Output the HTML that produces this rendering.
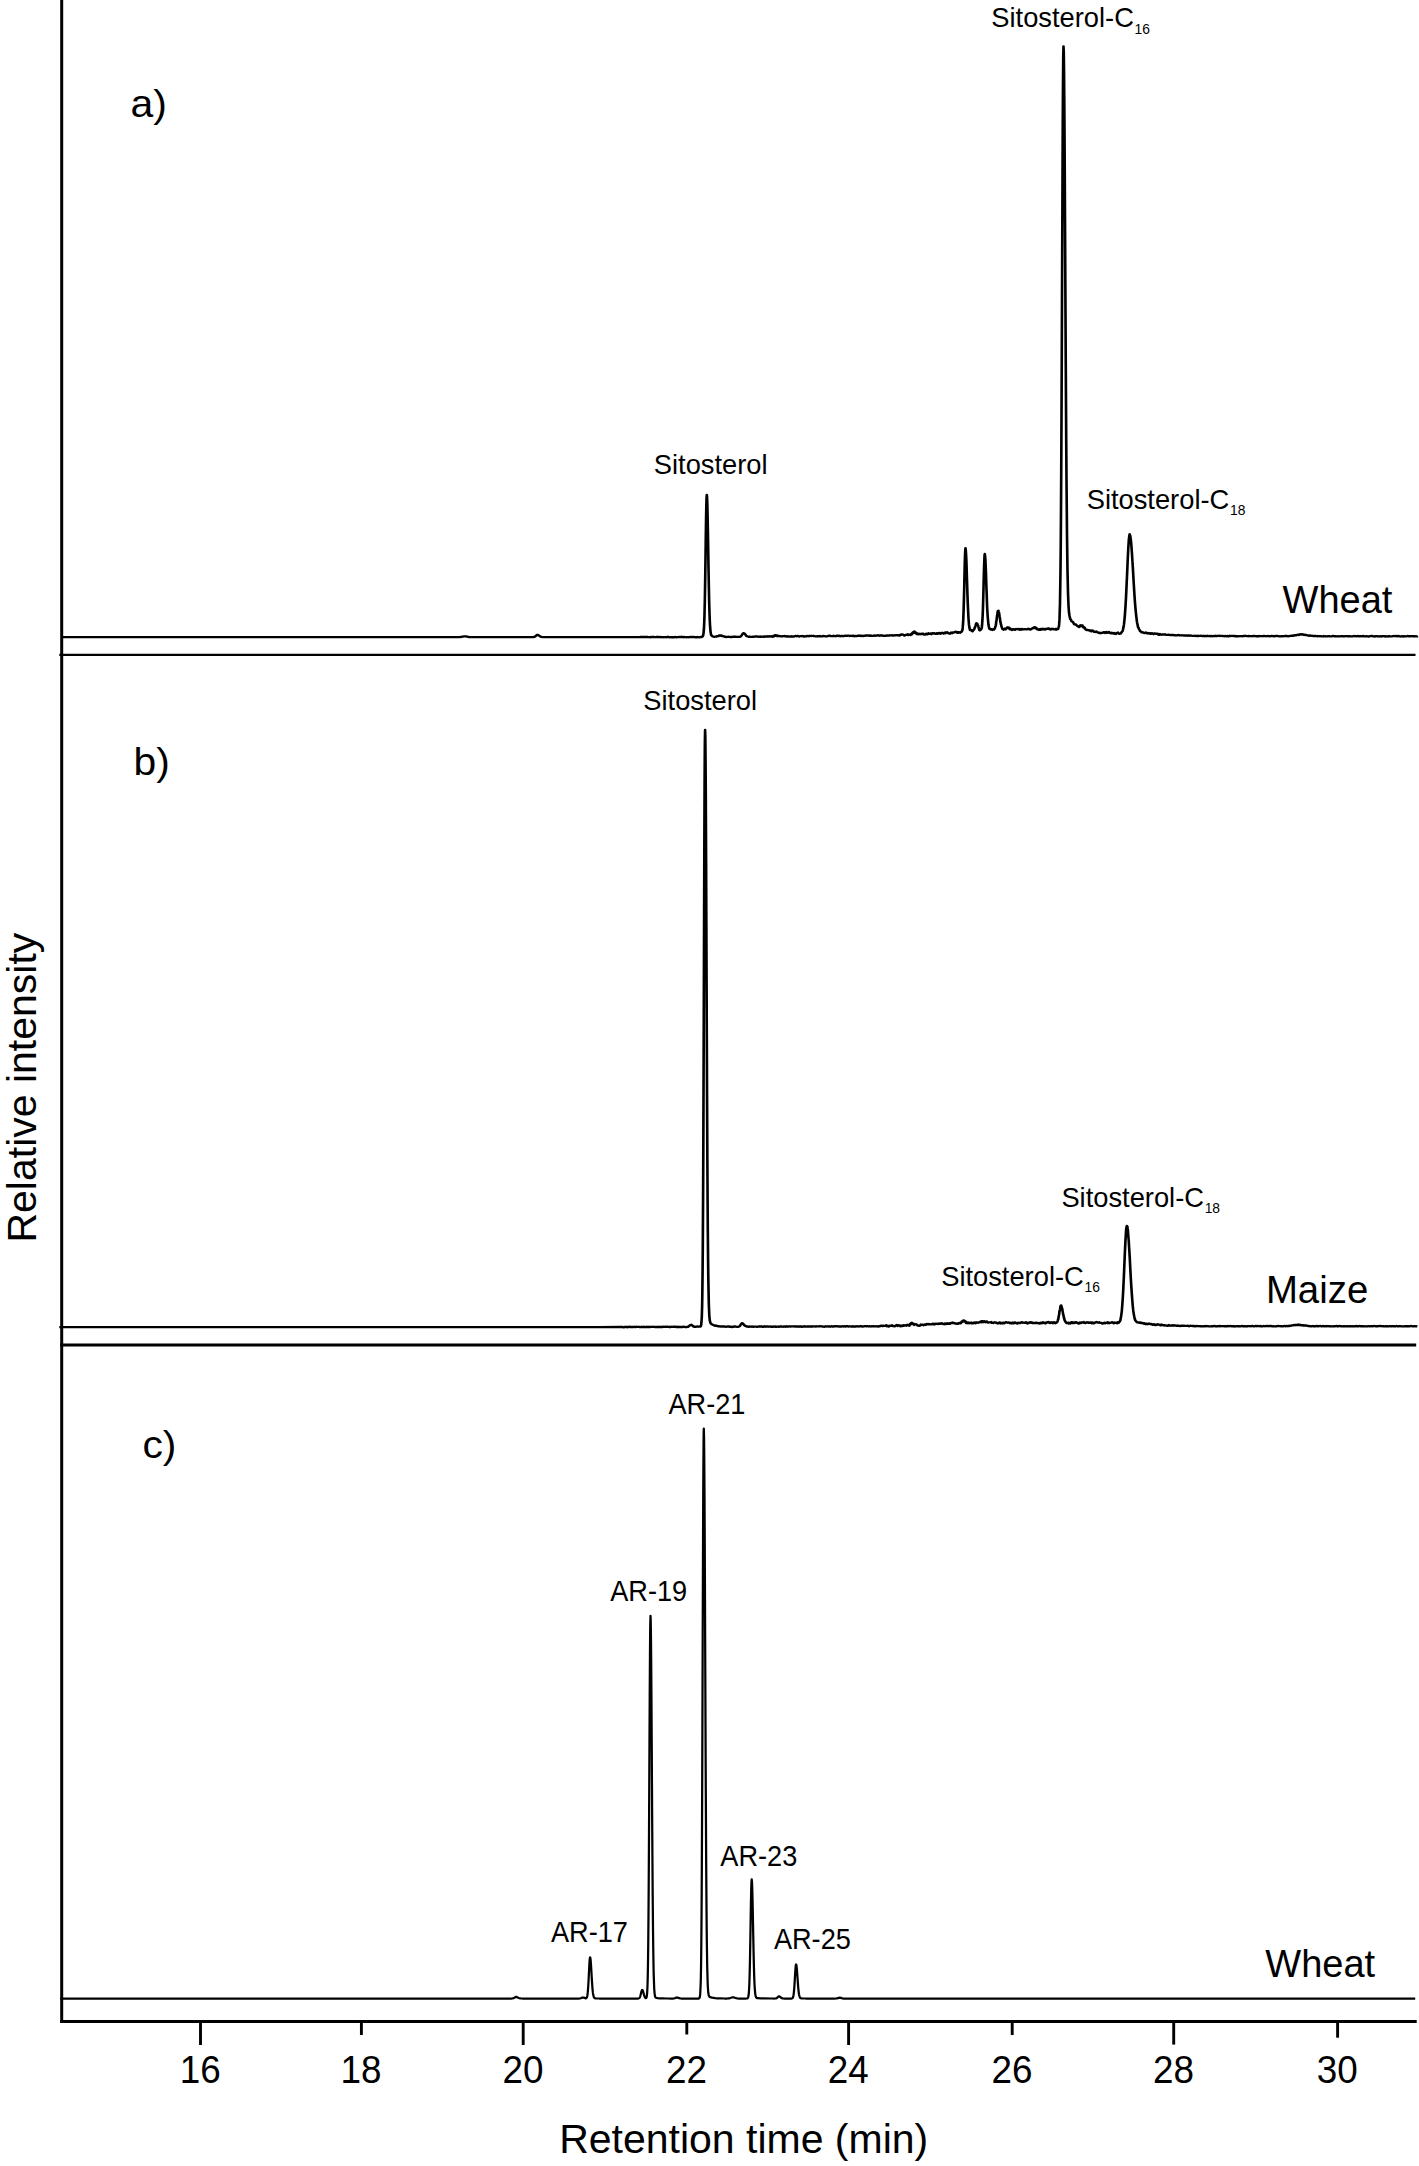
<!DOCTYPE html>
<html lang="en"><head><meta charset="utf-8"><title>GC-MS chromatograms</title>
<style>html,body{margin:0;padding:0;background:#fff;}body{width:1419px;height:2166px;overflow:hidden;}svg{display:block;}text{font-family:"Liberation Sans", Arial, Helvetica, sans-serif;fill:#000;}</style></head><body>
<svg width="1419" height="2166" viewBox="0 0 1419 2166">
<rect width="1419" height="2166" fill="#fff"/>
<g stroke="#000" fill="none" stroke-linecap="butt">
<line x1="61.7" y1="0" x2="61.7" y2="2023.1" stroke-width="3.0"/>
<line x1="60.2" y1="2021.5" x2="1416.7" y2="2021.5" stroke-width="3.2"/>
<line x1="59.3" y1="654.85" x2="1415.5" y2="654.85" stroke-width="2.45"/>
<line x1="60.2" y1="1345.0" x2="1416.2" y2="1345.0" stroke-width="2.9"/>
<line x1="200.5" y1="2021.5" x2="200.5" y2="2045" stroke-width="2.9"/>
<line x1="361.4" y1="2021.5" x2="361.4" y2="2035" stroke-width="2.9"/>
<line x1="523.2" y1="2021.5" x2="523.2" y2="2045" stroke-width="2.9"/>
<line x1="686.8" y1="2021.5" x2="686.8" y2="2034.5" stroke-width="2.9"/>
<line x1="848.6" y1="2021.5" x2="848.6" y2="2045" stroke-width="2.9"/>
<line x1="1012.2" y1="2021.5" x2="1012.2" y2="2035" stroke-width="2.9"/>
<line x1="1173.7" y1="2021.5" x2="1173.7" y2="2044.6" stroke-width="2.9"/>
<line x1="1337.6" y1="2021.5" x2="1337.6" y2="2037.7" stroke-width="2.9"/>
</g>
<g stroke="#000" fill="none" stroke-linejoin="round" stroke-linecap="butt">
<path transform="scale(1.12,1)" stroke-width="2.35" d="M55.36 637.1 L91.52 637.1 L127.68 637.1 L163.84 637.1 L200.00 637.1 L236.16 637.1 L272.32 637.1 L308.48 637.1 L344.64 637.1 L380.80 637.1 L408.48 637.1 L410.27 637.1 L411.16 637.0 L412.05 636.9 L414.29 636.4 L415.18 636.3 L416.07 636.4 L417.86 636.8 L418.75 637.0 L420.09 637.1 L456.25 637.1 L474.55 637.1 L475.89 637.1 L476.34 637.0 L476.79 637.0 L477.46 636.7 L478.12 636.2 L479.02 635.3 L479.46 635.0 L479.91 634.9 L480.36 635.0 L480.80 635.2 L482.14 636.3 L482.59 636.6 L483.04 636.8 L483.48 636.9 L484.37 637.1 L486.16 637.1 L522.32 637.1 L558.48 637.1 L570.98 637.1 L571.88 637.0 L572.32 637.1 L572.77 637.0 L573.21 637.0 L573.66 637.0 L574.11 636.9 L574.55 637.0 L575.00 636.9 L575.45 637.0 L575.89 636.9 L576.34 636.9 L576.79 637.0 L577.23 637.1 L577.68 637.0 L578.12 637.0 L578.57 637.1 L579.02 637.2 L579.91 637.1 L580.36 637.2 L580.80 637.0 L581.25 637.2 L582.14 637.0 L582.59 636.9 L583.04 637.0 L583.48 637.1 L583.93 637.0 L584.82 637.1 L585.27 637.1 L585.71 637.1 L586.16 637.0 L586.61 636.9 L587.05 636.9 L587.50 637.1 L588.39 637.0 L588.84 637.1 L589.29 637.1 L589.73 637.0 L590.18 637.2 L590.62 637.2 L591.07 637.1 L591.96 637.1 L592.41 637.2 L592.86 637.2 L593.30 637.1 L593.75 637.2 L594.20 637.1 L594.64 637.1 L595.09 637.2 L595.54 637.0 L595.98 637.1 L596.43 636.9 L597.32 637.2 L597.77 637.2 L598.21 637.2 L598.66 637.1 L599.11 637.2 L600.00 637.2 L600.45 637.1 L601.34 637.3 L601.79 637.2 L602.23 637.2 L602.68 637.0 L603.12 637.1 L603.57 637.2 L604.02 637.3 L604.46 637.3 L604.91 637.1 L605.36 637.1 L605.80 637.1 L606.25 637.0 L606.70 637.0 L608.04 636.9 L608.48 637.1 L608.93 637.0 L609.37 637.0 L609.82 637.0 L610.27 637.2 L610.71 637.0 L611.61 637.1 L612.05 637.2 L612.95 637.3 L613.39 637.1 L614.29 637.1 L614.73 637.2 L615.18 637.3 L615.62 637.1 L616.07 637.0 L616.96 637.0 L617.86 637.1 L618.30 637.0 L618.75 636.9 L619.20 637.0 L619.64 637.0 L620.09 637.1 L620.54 637.2 L620.98 637.2 L621.43 637.2 L622.32 637.2 L622.77 637.0 L623.21 637.2 L624.11 637.3 L624.55 637.3 L625.00 637.2 L625.45 637.1 L625.89 637.0 L626.34 637.1 L626.79 636.9 L627.23 636.6 L627.68 635.9 L628.12 633.6 L628.39 630.7 L628.57 627.5 L628.62 626.5 L628.84 620.6 L629.02 614.2 L629.06 612.4 L629.29 601.4 L629.46 591.0 L629.51 588.1 L629.73 572.0 L629.96 554.4 L630.18 536.6 L630.36 523.2 L630.40 520.3 L630.62 507.0 L630.80 499.5 L630.85 498.1 L631.07 494.9 L631.25 496.3 L631.29 497.1 L631.52 503.4 L631.70 511.3 L631.74 513.4 L631.96 526.0 L632.19 540.7 L632.59 567.6 L632.86 584.1 L633.04 594.1 L633.08 596.5 L633.30 606.6 L633.48 613.2 L633.53 614.7 L633.75 621.0 L633.93 625.0 L634.37 631.3 L634.82 634.3 L635.27 635.5 L635.71 635.9 L636.16 636.3 L636.61 636.5 L637.05 636.6 L637.95 636.8 L638.39 636.8 L638.84 636.6 L639.29 636.6 L639.73 636.5 L640.36 636.1 L640.62 636.1 L641.03 636.2 L641.07 636.1 L641.52 636.1 L641.96 635.6 L642.37 635.4 L642.59 635.6 L642.81 635.6 L643.04 635.6 L643.26 635.6 L643.30 635.4 L643.75 635.7 L644.15 635.7 L644.20 635.6 L644.38 635.8 L644.60 635.8 L644.82 636.1 L645.09 636.0 L645.27 636.2 L645.49 636.3 L645.54 636.1 L645.98 636.1 L646.43 636.5 L646.87 636.7 L647.32 636.6 L648.21 637.0 L648.66 637.0 L649.11 636.9 L649.55 636.9 L650.45 636.7 L650.89 636.9 L651.34 636.9 L651.79 636.9 L652.23 637.0 L652.68 636.9 L653.12 637.0 L653.57 637.0 L654.02 636.8 L654.46 636.7 L655.36 636.7 L655.80 636.8 L656.25 636.7 L656.70 636.7 L657.14 636.7 L657.59 636.8 L658.04 636.8 L658.93 636.8 L659.37 636.9 L659.82 636.8 L660.27 636.9 L660.71 636.7 L661.16 636.6 L661.38 636.4 L661.61 636.1 L661.83 635.9 L662.05 635.5 L662.28 635.1 L662.50 634.9 L662.72 634.4 L662.95 634.0 L663.62 633.2 L663.84 633.1 L664.06 633.2 L664.29 633.4 L664.51 633.4 L665.18 634.1 L665.40 634.5 L665.85 635.1 L666.29 635.8 L666.52 635.9 L666.96 636.2 L667.41 636.4 L668.30 636.7 L669.64 636.7 L670.09 636.8 L670.54 636.8 L671.43 636.9 L671.87 636.7 L672.32 636.7 L672.77 636.8 L673.21 636.8 L673.66 636.6 L674.11 636.5 L674.55 636.6 L675.00 636.5 L675.45 636.5 L675.89 636.4 L676.34 636.6 L677.23 636.8 L677.68 636.6 L678.12 636.7 L678.57 636.5 L679.46 636.9 L679.91 636.6 L680.36 636.8 L680.80 636.6 L681.25 636.6 L681.70 636.8 L682.14 636.9 L682.59 636.5 L683.04 636.5 L683.48 636.5 L684.37 636.4 L684.82 636.4 L685.27 636.6 L685.71 636.3 L686.16 636.4 L686.61 636.5 L687.05 636.2 L687.50 636.3 L687.95 636.5 L688.39 636.5 L688.84 636.3 L689.29 636.6 L689.73 636.7 L689.82 636.8 L690.04 636.4 L690.27 636.0 L690.49 636.3 L690.71 635.9 L690.94 635.9 L691.16 636.2 L691.52 635.6 L691.61 635.9 L691.96 635.7 L692.05 635.4 L692.28 635.2 L692.41 635.4 L692.72 635.2 L692.86 635.6 L693.17 635.8 L693.30 635.5 L693.39 635.8 L693.62 635.6 L693.75 635.9 L694.06 635.8 L694.20 636.0 L694.29 636.2 L694.64 635.9 L694.73 636.1 L695.18 636.0 L695.54 636.0 L696.43 636.2 L696.87 636.2 L697.32 636.4 L697.77 636.3 L698.21 636.4 L698.66 636.2 L699.11 636.2 L699.55 636.1 L700.00 636.1 L700.45 636.0 L700.89 636.3 L701.34 636.4 L701.79 636.2 L702.23 636.3 L702.68 636.6 L703.12 636.3 L703.57 636.5 L704.02 636.4 L704.46 636.4 L704.91 636.5 L705.36 636.4 L705.80 636.4 L706.25 636.5 L706.70 636.6 L707.14 636.4 L707.59 636.5 L708.48 636.5 L709.37 636.3 L709.82 636.1 L710.71 635.9 L711.16 636.2 L712.50 636.0 L712.95 636.3 L713.39 636.5 L713.84 636.5 L714.29 636.3 L714.73 636.1 L715.18 636.1 L715.62 636.2 L716.07 636.0 L716.52 636.1 L716.96 636.1 L717.41 636.4 L717.86 636.6 L718.30 636.4 L718.75 636.2 L719.20 636.4 L719.64 636.2 L720.09 636.2 L720.54 635.9 L721.43 636.1 L721.87 636.2 L722.32 636.0 L722.77 636.1 L723.21 635.9 L723.66 635.9 L724.11 635.9 L724.55 636.0 L725.00 635.8 L725.45 635.8 L725.89 635.9 L726.34 635.9 L726.79 636.1 L727.23 636.1 L727.68 636.3 L728.57 636.3 L729.02 636.4 L729.46 636.2 L729.91 636.1 L730.36 636.4 L730.80 636.1 L731.25 636.2 L731.70 636.2 L732.14 635.9 L732.59 636.2 L733.04 636.3 L733.48 636.3 L734.37 636.4 L734.82 636.0 L735.71 636.1 L736.16 636.2 L737.05 636.4 L737.50 636.3 L737.95 636.4 L738.84 636.3 L739.73 635.8 L740.18 635.7 L740.62 635.8 L741.07 635.7 L741.52 636.0 L743.30 636.2 L743.75 636.1 L744.20 635.8 L744.64 636.0 L745.09 636.1 L745.54 636.1 L745.98 636.1 L746.43 636.1 L746.87 635.8 L747.32 636.0 L748.21 635.7 L748.66 635.7 L749.11 636.0 L749.55 635.8 L750.45 636.2 L751.34 636.0 L751.79 635.9 L752.68 636.1 L753.57 636.1 L754.02 635.8 L754.46 635.7 L754.91 635.7 L755.36 635.9 L755.80 635.8 L756.25 635.9 L756.70 635.6 L757.14 635.6 L757.59 635.6 L758.04 635.8 L758.48 636.0 L758.93 636.0 L759.37 635.8 L759.82 635.9 L760.71 635.8 L761.16 635.7 L761.61 636.0 L762.05 635.7 L762.50 636.0 L762.95 636.2 L763.39 635.8 L763.84 635.8 L764.73 636.1 L765.62 635.8 L766.07 635.6 L766.52 635.9 L766.96 635.7 L767.41 635.8 L767.86 635.6 L768.30 635.7 L768.75 636.0 L769.20 635.7 L769.64 635.9 L770.09 635.8 L770.54 636.0 L770.98 636.0 L771.43 635.7 L771.87 635.9 L772.32 635.8 L772.77 635.5 L773.21 635.4 L773.66 635.5 L774.11 635.6 L774.55 635.6 L775.00 635.4 L775.89 635.5 L776.34 635.8 L776.79 635.5 L777.23 635.7 L777.68 635.8 L778.12 635.6 L778.57 635.8 L779.02 635.8 L779.46 635.9 L779.91 635.7 L780.36 635.6 L780.80 635.5 L781.25 635.8 L781.70 635.8 L782.14 635.6 L782.59 635.6 L783.04 635.5 L783.48 635.3 L783.93 635.2 L784.37 635.6 L784.82 635.5 L785.27 635.7 L785.71 635.5 L786.16 635.4 L786.61 635.5 L787.05 635.3 L787.50 635.4 L787.95 635.7 L788.39 635.8 L788.84 635.8 L789.29 635.7 L790.18 635.9 L790.62 635.7 L791.07 635.7 L791.52 635.4 L791.96 635.5 L792.41 635.5 L792.86 635.6 L793.30 635.6 L794.20 635.2 L794.64 635.5 L795.09 635.3 L795.54 635.3 L796.43 635.2 L797.32 635.6 L797.77 635.4 L798.21 635.5 L798.66 635.3 L799.11 635.4 L799.55 635.3 L800.00 635.2 L800.45 635.1 L800.89 635.1 L801.34 635.4 L801.79 635.4 L802.23 635.2 L802.68 635.5 L803.12 635.6 L803.57 635.1 L804.02 634.8 L804.46 634.5 L804.91 634.7 L805.36 634.5 L806.25 634.6 L806.70 634.9 L807.14 635.4 L807.59 635.5 L808.04 635.2 L808.48 635.0 L808.93 635.0 L809.82 634.7 L810.27 634.3 L810.71 634.4 L811.16 635.1 L811.61 634.6 L812.05 634.7 L812.50 634.8 L812.95 635.1 L813.39 634.3 L813.48 634.1 L813.71 633.8 L813.93 633.9 L814.15 634.3 L814.37 634.3 L814.60 633.2 L814.73 632.6 L814.82 633.0 L815.04 633.2 L815.18 632.8 L815.27 632.7 L815.49 631.9 L815.62 631.9 L815.71 632.5 L816.07 632.6 L816.16 632.8 L816.52 631.7 L816.61 631.5 L816.83 631.9 L816.96 632.3 L817.05 632.8 L817.41 633.0 L817.50 633.2 L817.72 633.1 L817.86 633.2 L817.95 632.7 L818.17 633.4 L818.30 633.2 L818.39 633.8 L818.62 634.0 L818.75 633.7 L818.84 633.4 L819.20 633.5 L819.64 634.1 L820.09 634.4 L820.54 633.9 L820.98 633.7 L821.43 634.0 L821.87 634.2 L822.32 634.1 L822.77 633.8 L823.21 634.1 L823.66 633.6 L824.11 633.6 L824.55 633.8 L825.00 634.5 L825.45 634.4 L825.89 634.6 L826.34 634.3 L826.79 633.8 L827.23 633.6 L827.68 634.3 L828.12 634.3 L828.57 633.9 L829.02 633.3 L829.46 633.6 L829.91 633.9 L830.36 633.7 L830.80 633.5 L831.25 633.8 L831.70 634.2 L832.14 633.6 L832.59 633.1 L833.04 633.2 L833.48 633.3 L833.93 633.6 L834.37 633.3 L834.82 633.7 L835.27 633.9 L835.71 633.7 L836.16 633.2 L836.61 633.8 L837.05 633.4 L837.50 633.7 L837.95 633.3 L838.39 633.0 L838.84 633.4 L839.29 633.1 L839.73 633.7 L840.18 633.5 L840.62 633.0 L841.07 632.8 L841.52 632.9 L841.96 633.2 L842.41 633.6 L842.86 633.0 L843.30 632.9 L843.75 632.6 L844.20 633.3 L844.64 632.8 L845.09 632.4 L845.54 632.2 L845.98 632.4 L846.43 633.1 L846.87 633.4 L847.32 633.4 L847.77 633.6 L848.21 633.7 L848.66 633.0 L849.11 632.5 L849.55 633.1 L850.00 633.2 L850.45 632.4 L850.89 632.7 L851.34 632.5 L852.23 632.3 L852.68 632.0 L853.12 631.7 L854.02 632.0 L854.46 632.7 L854.91 632.1 L855.36 632.8 L855.80 632.2 L856.25 632.1 L856.70 632.6 L857.14 632.8 L857.59 632.4 L858.04 631.8 L858.48 631.8 L858.93 631.1 L859.37 629.7 L859.60 627.2 L859.82 624.0 L860.04 620.1 L860.27 613.3 L860.49 605.6 L860.71 596.6 L860.94 586.2 L861.16 574.5 L861.38 563.8 L861.61 555.2 L861.83 550.5 L862.05 548.2 L862.28 549.7 L862.50 553.2 L862.72 557.8 L862.95 564.1 L863.17 572.2 L863.39 580.2 L863.62 588.0 L863.84 596.0 L864.06 602.8 L864.29 608.8 L864.73 618.5 L865.18 624.9 L865.62 628.1 L866.07 630.0 L866.52 629.9 L866.96 630.0 L867.41 630.4 L867.86 631.0 L868.30 631.3 L868.75 630.7 L869.20 630.0 L869.64 629.3 L869.87 629.3 L870.09 628.1 L870.31 627.8 L870.76 626.5 L870.98 625.7 L871.43 623.9 L871.65 623.4 L871.87 623.2 L872.10 623.7 L872.32 623.4 L872.54 623.7 L872.77 624.8 L873.21 625.5 L873.44 626.0 L873.66 627.1 L873.88 627.7 L874.11 629.0 L874.33 629.8 L874.55 630.4 L875.00 630.3 L875.45 630.0 L875.89 629.5 L876.34 628.7 L876.61 627.4 L876.79 625.7 L876.83 624.9 L877.05 621.8 L877.28 617.8 L877.50 612.1 L877.68 606.6 L877.72 604.9 L877.95 595.7 L878.12 588.7 L878.17 586.4 L878.39 576.9 L878.57 569.6 L878.62 568.3 L878.84 560.7 L879.02 556.5 L879.06 555.7 L879.29 553.9 L879.51 555.7 L879.73 558.3 L879.91 561.7 L879.96 563.4 L880.18 569.1 L880.36 574.1 L880.40 575.9 L880.62 583.3 L880.80 589.6 L880.85 590.3 L881.29 604.4 L881.52 610.2 L881.74 613.9 L881.96 617.6 L882.14 620.0 L882.59 625.1 L883.04 627.4 L883.48 628.9 L883.93 629.0 L884.37 629.5 L884.82 629.4 L885.27 629.1 L886.16 630.0 L886.61 629.3 L887.05 629.5 L887.50 629.5 L887.95 628.8 L888.39 627.9 L888.84 626.1 L889.02 625.6 L889.24 624.6 L889.29 623.9 L889.46 622.2 L889.69 620.6 L889.73 620.6 L889.91 618.8 L890.13 616.7 L890.18 616.2 L890.36 615.3 L890.58 613.6 L890.62 612.8 L890.80 611.5 L891.03 610.9 L891.07 611.0 L891.25 611.1 L891.52 610.7 L891.70 611.7 L891.92 612.6 L891.96 612.6 L892.14 613.5 L892.37 615.7 L892.41 615.6 L892.59 617.0 L892.86 618.7 L893.04 620.5 L893.26 622.4 L893.30 622.2 L893.48 622.9 L893.71 624.6 L893.75 624.4 L893.93 624.9 L894.20 626.7 L895.09 629.0 L895.54 629.2 L895.98 629.7 L896.43 629.5 L897.32 628.5 L897.54 628.8 L897.77 629.0 L897.99 629.3 L898.21 628.5 L898.44 628.5 L898.66 628.2 L898.88 628.1 L899.11 627.6 L899.33 627.4 L899.55 627.5 L899.78 628.0 L900.00 627.4 L900.22 627.5 L900.67 628.5 L900.89 628.0 L901.12 627.7 L901.34 628.6 L901.56 629.2 L901.79 629.0 L902.01 628.5 L902.23 629.3 L902.46 629.1 L902.68 629.6 L903.12 629.6 L903.57 629.9 L904.02 629.3 L904.46 629.6 L904.91 629.2 L905.36 629.2 L905.80 629.7 L906.25 629.9 L906.70 629.3 L907.14 629.0 L907.59 629.1 L908.04 629.2 L908.48 629.2 L908.93 628.8 L909.37 628.8 L909.82 629.3 L910.27 629.8 L910.71 629.0 L911.16 629.2 L911.61 629.6 L912.05 628.9 L912.50 629.5 L912.95 629.0 L913.39 629.2 L913.84 629.3 L914.29 629.4 L914.73 629.1 L915.18 629.1 L915.62 629.3 L916.07 629.2 L916.52 629.4 L916.96 629.3 L917.41 629.2 L917.86 628.7 L918.30 629.1 L918.75 629.2 L919.20 628.9 L919.64 629.4 L920.09 629.6 L920.54 629.3 L920.98 628.8 L921.43 628.8 L921.65 628.4 L921.87 628.2 L922.10 628.3 L922.32 627.9 L922.77 628.1 L922.99 627.5 L923.21 627.9 L923.44 627.3 L923.66 627.8 L923.88 628.0 L924.11 627.9 L924.33 627.3 L924.55 627.6 L924.78 627.6 L925.00 628.4 L925.22 627.9 L925.45 628.6 L925.67 629.1 L925.89 629.2 L926.12 629.3 L926.34 628.8 L926.56 629.4 L926.79 629.2 L927.23 629.7 L927.68 629.9 L928.12 629.2 L929.02 629.8 L929.46 629.0 L929.91 628.9 L930.36 629.3 L930.80 628.8 L931.25 629.4 L931.70 629.0 L932.14 629.4 L932.59 628.9 L933.04 629.0 L933.48 629.5 L933.93 629.0 L934.37 628.8 L934.82 628.9 L935.27 628.8 L935.71 628.4 L936.61 628.4 L937.05 629.2 L937.50 629.3 L937.95 629.6 L938.39 629.0 L938.84 629.3 L939.29 628.8 L940.18 629.1 L940.62 628.9 L941.07 629.4 L941.52 629.3 L941.96 629.2 L942.41 629.5 L942.86 628.8 L943.30 629.5 L943.75 629.4 L944.20 629.0 L944.64 629.0 L945.09 627.8 L945.54 626.0 L945.98 619.4 L946.43 603.3 L946.87 570.5 L947.10 544.4 L947.32 510.3 L947.54 469.0 L947.77 418.6 L947.99 362.5 L948.21 300.9 L948.44 238.3 L948.66 178.5 L948.88 125.1 L949.11 83.3 L949.33 56.2 L949.55 46.4 L949.78 51.7 L950.00 68.1 L950.22 95.1 L950.45 130.0 L950.67 171.6 L950.89 218.1 L951.12 265.8 L951.34 314.1 L951.56 361.4 L951.79 404.7 L952.01 444.1 L952.23 479.2 L952.68 533.9 L953.12 570.6 L953.57 592.7 L954.02 605.6 L954.46 612.5 L954.91 615.7 L955.36 618.0 L955.80 619.3 L956.25 619.8 L956.70 621.2 L957.59 621.7 L958.04 622.0 L958.93 623.9 L959.37 624.4 L959.82 624.4 L960.27 624.5 L960.71 624.5 L961.16 625.3 L961.61 625.8 L962.05 625.9 L962.50 626.4 L962.95 626.5 L963.21 627.0 L963.39 627.0 L963.44 626.5 L963.66 626.9 L963.84 626.2 L963.88 626.3 L964.11 626.2 L964.29 625.9 L964.33 625.5 L964.55 626.0 L964.73 625.4 L964.78 625.7 L965.00 626.2 L965.22 625.3 L965.45 625.5 L965.62 625.6 L965.67 625.8 L965.89 626.1 L966.12 625.5 L966.34 625.6 L966.52 625.4 L966.56 626.2 L966.79 626.7 L966.96 627.0 L967.01 626.3 L967.23 627.1 L967.41 627.5 L967.46 627.4 L967.68 627.8 L967.86 627.8 L967.90 627.5 L968.12 627.5 L968.30 627.7 L968.35 627.5 L968.57 627.9 L968.75 628.7 L969.64 629.8 L970.09 630.0 L970.54 629.7 L970.98 629.9 L971.43 629.9 L971.87 630.4 L972.32 630.4 L972.77 630.2 L973.21 630.5 L973.66 631.1 L974.11 630.6 L974.55 631.2 L975.00 630.5 L975.89 630.6 L976.34 631.2 L976.79 631.8 L977.23 631.9 L977.68 631.6 L978.12 632.0 L978.57 631.7 L979.02 631.5 L979.46 632.2 L979.91 632.3 L980.36 632.5 L980.80 632.5 L981.25 633.0 L981.70 632.7 L982.14 633.0 L982.59 633.0 L983.04 633.2 L983.48 632.8 L983.93 632.9 L984.37 632.9 L984.82 632.5 L985.27 632.3 L985.71 632.6 L986.16 632.2 L986.61 632.9 L987.05 632.5 L987.50 632.1 L987.95 632.0 L988.39 632.9 L988.84 632.7 L989.29 632.4 L989.73 632.1 L990.18 632.0 L990.62 632.7 L991.07 633.0 L991.52 633.2 L991.96 633.4 L992.41 632.7 L992.86 633.0 L993.30 632.9 L993.75 633.4 L994.64 633.8 L995.09 633.0 L995.54 633.5 L995.98 633.8 L996.43 634.0 L996.87 633.2 L997.32 632.9 L997.77 632.7 L998.21 632.5 L998.66 633.3 L999.11 633.7 L999.55 633.7 L1000.00 633.8 L1000.45 633.6 L1000.89 633.1 L1001.79 631.6 L1002.23 631.3 L1002.68 629.5 L1003.12 627.3 L1003.57 624.2 L1004.02 619.4 L1004.46 613.6 L1004.91 606.1 L1005.36 597.6 L1005.80 587.0 L1005.98 582.5 L1006.21 577.5 L1006.25 576.1 L1006.43 571.8 L1006.65 566.0 L1006.70 564.2 L1006.88 559.9 L1007.10 554.7 L1007.14 554.1 L1007.32 549.9 L1007.77 541.7 L1007.99 539.2 L1008.04 538.1 L1008.21 536.9 L1008.44 535.1 L1008.48 534.5 L1008.66 534.2 L1008.88 535.1 L1008.93 535.7 L1009.11 535.6 L1009.33 536.9 L1009.55 539.1 L1009.78 540.8 L1010.00 543.3 L1010.22 546.8 L1010.27 547.0 L1010.45 550.3 L1010.67 553.4 L1010.71 553.9 L1010.89 557.3 L1011.12 561.4 L1011.16 561.7 L1011.34 565.4 L1011.61 570.1 L1012.05 579.3 L1012.50 587.8 L1012.95 595.8 L1013.39 602.8 L1013.84 608.7 L1014.29 613.8 L1014.73 618.2 L1015.18 622.2 L1015.62 624.3 L1016.07 627.0 L1016.52 627.9 L1016.96 629.0 L1017.41 629.8 L1017.86 631.1 L1018.30 631.4 L1018.75 631.6 L1019.20 632.3 L1019.64 632.0 L1020.09 632.2 L1020.54 632.4 L1020.98 632.8 L1021.43 633.0 L1021.87 633.1 L1022.32 632.8 L1022.77 632.7 L1023.21 632.4 L1023.66 633.1 L1024.55 633.5 L1025.00 633.0 L1025.45 633.1 L1025.89 633.5 L1026.34 633.6 L1026.79 633.1 L1027.23 633.3 L1027.68 633.9 L1028.12 633.5 L1028.57 633.2 L1029.02 633.3 L1029.46 633.8 L1029.91 634.2 L1030.36 633.7 L1030.80 633.4 L1031.25 633.5 L1031.70 633.6 L1032.14 633.9 L1032.59 633.7 L1033.04 633.8 L1033.48 633.7 L1033.93 634.5 L1034.38 634.7 L1034.82 634.1 L1035.27 634.8 L1035.71 634.1 L1036.16 634.6 L1036.61 634.7 L1037.05 634.7 L1037.95 634.5 L1038.39 634.6 L1038.84 634.5 L1039.29 634.5 L1039.73 634.5 L1040.18 634.4 L1040.62 634.5 L1041.07 634.8 L1041.52 634.8 L1041.96 634.8 L1042.41 634.9 L1042.86 634.8 L1043.30 634.7 L1043.75 634.8 L1044.20 634.8 L1045.09 635.1 L1045.54 635.0 L1045.98 635.0 L1046.43 635.1 L1047.32 634.9 L1048.21 635.2 L1048.66 635.2 L1049.11 635.2 L1049.55 635.3 L1050.45 635.3 L1051.34 635.1 L1051.79 635.2 L1052.23 635.0 L1052.68 635.1 L1053.12 635.3 L1053.57 635.4 L1054.02 635.4 L1054.46 635.2 L1055.36 635.3 L1055.80 635.4 L1056.25 635.3 L1056.70 635.4 L1057.14 635.6 L1057.59 635.4 L1058.48 635.6 L1058.93 635.5 L1059.38 635.5 L1059.82 635.7 L1060.27 635.4 L1060.71 635.5 L1061.16 635.4 L1062.05 635.8 L1062.50 635.7 L1062.95 635.5 L1063.39 635.6 L1063.84 635.7 L1064.29 635.8 L1064.73 635.8 L1065.18 635.8 L1065.62 635.9 L1066.52 635.8 L1066.96 636.0 L1067.41 635.8 L1067.86 635.9 L1068.30 635.9 L1068.75 636.0 L1069.20 635.8 L1069.64 636.1 L1070.09 636.0 L1070.54 635.8 L1070.98 635.8 L1071.43 635.9 L1071.88 635.7 L1072.32 635.8 L1072.77 635.9 L1073.21 636.0 L1074.55 635.8 L1075.45 636.2 L1075.89 636.1 L1076.34 635.9 L1076.79 636.1 L1078.12 635.8 L1078.57 636.0 L1079.02 636.1 L1079.46 636.1 L1079.91 636.1 L1080.36 636.1 L1080.80 635.9 L1081.25 636.2 L1081.70 636.0 L1082.14 636.1 L1082.59 636.2 L1083.04 636.2 L1083.93 636.0 L1084.38 636.0 L1084.82 635.9 L1085.27 636.1 L1085.71 636.0 L1086.16 636.1 L1086.61 636.0 L1087.50 635.9 L1087.95 635.9 L1088.84 635.7 L1089.29 636.0 L1090.18 635.9 L1090.62 635.9 L1091.07 635.9 L1091.52 636.0 L1092.41 636.1 L1092.86 636.0 L1093.30 636.2 L1093.75 636.3 L1094.20 636.0 L1094.64 636.1 L1095.09 636.2 L1095.54 636.3 L1095.98 636.0 L1096.43 636.2 L1096.88 636.2 L1097.32 635.9 L1097.77 635.8 L1098.21 636.1 L1098.66 636.1 L1099.55 635.9 L1100.00 635.8 L1100.45 635.8 L1100.89 636.0 L1101.34 636.0 L1101.79 635.9 L1102.23 636.1 L1102.68 636.2 L1103.12 636.0 L1103.57 636.2 L1104.02 636.2 L1104.46 636.2 L1104.91 636.2 L1105.36 636.3 L1106.25 636.3 L1106.70 636.1 L1107.14 636.1 L1107.59 636.1 L1108.04 636.2 L1108.48 636.1 L1108.93 636.2 L1109.38 636.2 L1109.82 636.0 L1110.71 635.9 L1111.16 636.0 L1111.61 635.8 L1112.05 635.9 L1112.50 635.9 L1112.95 636.0 L1113.84 636.1 L1114.29 636.2 L1114.73 635.9 L1115.18 636.1 L1115.62 636.1 L1116.52 636.2 L1116.96 636.2 L1117.41 636.1 L1117.86 636.1 L1118.30 636.2 L1118.75 636.0 L1119.20 636.1 L1119.64 636.1 L1120.09 635.9 L1120.98 636.1 L1121.43 636.3 L1121.88 636.1 L1122.32 636.3 L1123.21 636.1 L1123.66 636.3 L1124.11 636.0 L1124.55 636.1 L1125.00 636.2 L1125.45 636.1 L1125.89 636.2 L1126.34 636.1 L1127.23 636.1 L1127.68 636.2 L1128.12 636.0 L1129.02 636.0 L1129.46 636.1 L1129.91 636.2 L1130.36 636.1 L1130.80 636.2 L1131.25 636.1 L1131.70 636.1 L1132.14 636.0 L1132.59 636.1 L1133.04 636.3 L1133.48 636.2 L1133.93 636.3 L1134.38 636.1 L1135.27 636.0 L1136.61 636.2 L1137.05 636.0 L1137.95 636.3 L1138.39 636.2 L1138.84 636.0 L1139.29 636.0 L1139.73 635.8 L1140.18 635.8 L1140.62 636.1 L1141.52 636.2 L1142.41 636.4 L1142.86 636.3 L1143.75 636.2 L1144.20 636.2 L1144.64 636.2 L1145.09 636.2 L1145.54 636.1 L1145.98 636.2 L1146.43 636.1 L1146.88 636.2 L1147.32 636.0 L1148.21 635.8 L1148.66 636.1 L1149.11 636.2 L1149.55 636.2 L1150.00 636.1 L1150.45 636.2 L1150.89 636.2 L1151.34 636.1 L1151.79 635.9 L1152.23 635.8 L1152.68 635.8 L1153.12 635.7 L1153.57 635.7 L1154.02 635.8 L1154.46 635.9 L1154.91 635.5 L1155.36 635.5 L1155.80 635.2 L1156.25 635.1 L1156.70 635.3 L1157.14 635.2 L1157.59 635.2 L1158.04 635.0 L1158.48 634.7 L1158.93 634.7 L1159.15 634.7 L1159.60 635.0 L1160.04 634.7 L1160.27 634.5 L1160.49 634.6 L1161.16 634.3 L1161.38 634.2 L1161.61 634.4 L1161.83 634.3 L1162.05 634.6 L1162.28 634.4 L1162.50 634.6 L1162.95 634.3 L1163.17 634.6 L1163.39 634.5 L1163.62 634.7 L1164.06 634.5 L1164.29 634.7 L1165.18 635.0 L1165.62 635.1 L1166.07 634.9 L1166.96 635.3 L1167.41 635.3 L1167.86 635.5 L1168.30 635.4 L1168.75 635.7 L1169.20 635.7 L1169.64 635.5 L1170.09 635.4 L1170.98 635.9 L1171.43 635.7 L1171.88 635.8 L1172.32 636.0 L1172.77 635.9 L1173.21 636.1 L1173.66 636.1 L1174.11 635.9 L1174.55 635.9 L1175.00 636.1 L1175.45 636.1 L1175.89 636.2 L1176.34 636.0 L1176.79 636.2 L1177.23 636.1 L1177.68 636.2 L1178.12 636.2 L1179.02 636.1 L1179.91 636.4 L1180.36 636.4 L1180.80 636.3 L1181.70 636.0 L1182.14 636.3 L1183.04 636.4 L1183.48 636.2 L1183.93 636.2 L1184.38 636.4 L1184.82 636.4 L1185.27 636.3 L1185.71 636.2 L1186.16 636.1 L1186.61 636.3 L1187.05 636.2 L1187.50 636.3 L1187.95 636.3 L1188.39 636.4 L1188.84 636.4 L1189.73 636.0 L1190.18 636.0 L1191.07 636.2 L1191.52 636.3 L1191.96 636.4 L1192.41 636.1 L1192.86 636.3 L1193.75 636.4 L1194.20 636.3 L1194.64 636.2 L1195.09 636.3 L1195.54 636.4 L1195.98 636.4 L1196.43 636.4 L1197.32 636.1 L1197.77 636.1 L1198.21 636.3 L1198.66 636.1 L1199.55 636.4 L1200.00 636.2 L1200.89 636.3 L1201.34 636.2 L1201.79 636.1 L1202.23 636.1 L1202.68 636.2 L1203.12 636.3 L1203.57 636.3 L1204.02 636.1 L1204.46 636.3 L1204.91 636.3 L1205.36 636.2 L1205.80 636.2 L1206.25 636.4 L1206.70 636.4 L1207.59 636.3 L1208.04 636.3 L1208.48 636.1 L1209.37 636.0 L1209.82 636.2 L1210.27 636.1 L1210.71 636.2 L1211.16 636.2 L1211.61 636.2 L1212.50 636.0 L1212.95 636.3 L1213.39 636.2 L1213.84 636.1 L1214.73 636.3 L1215.18 636.1 L1215.62 636.2 L1216.07 636.2 L1216.52 636.2 L1216.96 636.0 L1217.41 635.9 L1217.86 636.3 L1218.30 636.4 L1218.75 636.3 L1219.20 636.3 L1219.64 636.2 L1220.09 636.3 L1220.54 636.2 L1220.98 636.4 L1221.87 636.5 L1222.32 636.5 L1223.21 636.1 L1225.00 635.9 L1225.89 636.3 L1226.34 636.3 L1226.79 636.4 L1227.23 636.5 L1227.68 636.2 L1228.12 636.3 L1228.57 636.2 L1229.02 636.1 L1229.46 636.3 L1229.91 636.2 L1230.80 636.3 L1231.25 636.5 L1231.70 636.4 L1232.14 636.3 L1232.59 636.2 L1233.04 636.1 L1233.48 636.4 L1233.93 636.5 L1234.37 636.3 L1234.82 636.1 L1235.27 636.1 L1235.71 636.1 L1236.16 636.3 L1236.61 636.5 L1237.05 636.5 L1237.50 636.2 L1237.95 636.3 L1238.39 636.4 L1238.84 636.4 L1239.29 636.5 L1239.73 636.2 L1240.18 636.1 L1241.07 636.4 L1241.52 636.4 L1241.96 636.3 L1242.41 636.3 L1242.86 636.4 L1243.30 636.2 L1244.20 636.1 L1244.64 636.0 L1245.09 636.1 L1245.54 636.1 L1246.43 636.0 L1246.87 636.2 L1247.32 636.0 L1247.77 636.2 L1248.66 636.0 L1249.11 636.3 L1249.55 636.2 L1250.00 636.4 L1250.89 636.5 L1251.34 636.3 L1251.79 636.2 L1252.23 636.1 L1252.68 636.4 L1253.12 636.5 L1253.57 636.4 L1254.46 636.2 L1254.91 636.4 L1255.36 636.3 L1255.80 636.4 L1256.25 636.2 L1257.14 636.0 L1257.59 636.2 L1258.04 636.3 L1258.48 636.1 L1258.93 636.4 L1259.37 636.2 L1259.82 636.2 L1260.27 636.1 L1260.71 636.1 L1261.16 636.3 L1262.05 636.1 L1262.50 636.2 L1262.95 636.2 L1263.39 636.4 L1263.84 636.2 L1264.29 636.4 L1264.73 636.2 L1265.18 636.4 L1265.62 636.4 L1266.07 636.2"/>
<path transform="scale(1.12,1)" stroke-width="2.35" d="M52.95 1327.1 L89.11 1327.1 L124.82 1327.1 L160.98 1327.1 L197.14 1327.1 L233.30 1327.1 L269.46 1327.1 L305.62 1327.1 L341.79 1327.1 L377.95 1327.1 L414.11 1327.1 L450.27 1327.1 L486.43 1327.1 L522.59 1327.1 L535.98 1327.1 L553.39 1327.0 L553.84 1327.0 L555.18 1326.8 L555.62 1326.9 L556.07 1327.2 L556.52 1327.3 L556.96 1327.3 L557.41 1327.0 L557.86 1326.9 L558.30 1327.1 L558.75 1326.9 L559.20 1327.1 L559.64 1327.0 L560.09 1327.2 L560.54 1326.9 L560.98 1327.1 L562.32 1326.7 L562.77 1327.0 L563.21 1327.0 L563.66 1326.9 L564.11 1326.9 L564.55 1327.1 L565.00 1326.9 L565.45 1327.0 L565.89 1326.9 L566.34 1326.8 L566.79 1327.0 L567.23 1327.1 L568.12 1326.8 L568.57 1326.7 L569.02 1326.9 L569.46 1326.9 L570.36 1326.8 L571.25 1327.0 L571.70 1327.1 L572.14 1327.1 L573.04 1326.8 L573.48 1327.0 L573.93 1326.9 L574.37 1327.0 L574.82 1326.8 L575.27 1327.0 L575.71 1326.9 L576.16 1327.1 L576.61 1327.2 L577.05 1327.1 L577.50 1326.8 L577.95 1327.1 L578.39 1327.0 L578.84 1327.1 L579.29 1326.9 L579.73 1326.8 L580.18 1327.0 L581.07 1326.8 L581.52 1326.8 L581.96 1326.9 L582.41 1326.7 L582.86 1326.8 L583.75 1326.9 L584.20 1326.8 L584.64 1326.9 L585.09 1327.1 L585.54 1327.1 L585.98 1327.0 L586.43 1327.0 L586.87 1326.9 L587.32 1327.0 L587.77 1326.8 L588.21 1327.0 L588.66 1327.1 L589.11 1327.0 L590.00 1327.0 L590.45 1327.0 L590.89 1326.7 L591.34 1327.0 L591.79 1326.9 L592.68 1326.7 L593.12 1326.7 L593.57 1326.9 L594.02 1326.7 L594.46 1326.7 L594.91 1326.9 L595.80 1326.6 L596.25 1326.8 L596.70 1326.9 L597.14 1326.9 L597.59 1327.0 L598.04 1326.8 L598.48 1327.0 L598.93 1327.0 L599.37 1326.8 L599.82 1326.7 L600.27 1326.8 L600.71 1326.8 L601.61 1326.7 L602.05 1326.7 L602.50 1326.7 L603.39 1327.0 L603.84 1326.8 L604.73 1327.0 L605.18 1326.8 L605.62 1327.0 L606.07 1327.1 L606.52 1326.9 L606.96 1326.9 L607.41 1327.0 L608.30 1326.9 L608.75 1327.0 L609.20 1327.1 L609.64 1326.9 L610.09 1326.8 L610.54 1326.7 L610.98 1326.8 L611.43 1327.0 L612.32 1327.1 L613.21 1327.1 L613.66 1326.8 L614.11 1326.7 L614.29 1326.9 L614.51 1326.9 L614.55 1326.6 L614.96 1326.4 L615.18 1326.2 L615.40 1325.8 L615.62 1325.7 L615.89 1325.3 L616.07 1325.4 L616.29 1325.3 L616.34 1325.3 L616.52 1325.1 L616.96 1325.1 L617.19 1324.8 L617.23 1324.9 L617.41 1324.9 L617.63 1325.1 L617.68 1325.0 L617.86 1325.2 L618.12 1325.6 L618.30 1325.6 L618.57 1325.8 L618.75 1326.2 L619.02 1326.1 L619.20 1326.3 L619.42 1326.3 L619.64 1326.7 L620.36 1326.7 L621.25 1326.8 L621.70 1326.7 L622.14 1326.6 L622.59 1326.5 L623.48 1326.7 L624.37 1326.6 L624.82 1326.5 L625.27 1326.6 L625.71 1326.3 L626.16 1324.3 L626.61 1317.1 L626.88 1307.0 L627.05 1295.9 L627.10 1292.6 L627.32 1270.6 L627.50 1246.0 L627.54 1238.8 L627.77 1195.2 L627.95 1151.4 L627.99 1139.1 L628.21 1071.7 L628.39 1011.6 L628.44 996.1 L628.66 917.8 L628.84 858.0 L628.88 844.1 L629.11 783.8 L629.29 749.8 L629.33 743.8 L629.55 729.9 L629.73 735.7 L629.78 739.3 L630.00 766.1 L630.18 798.9 L630.22 808.2 L630.45 861.9 L630.62 910.6 L630.67 923.1 L630.89 986.6 L631.07 1036.8 L631.12 1049.0 L631.34 1106.8 L631.52 1147.8 L631.56 1157.3 L631.79 1200.2 L631.96 1228.4 L632.01 1234.5 L632.23 1261.1 L632.41 1277.4 L632.86 1303.5 L633.30 1315.6 L633.75 1320.6 L634.20 1322.6 L634.64 1323.4 L635.09 1323.9 L635.54 1324.2 L635.98 1324.5 L636.43 1324.7 L636.87 1325.0 L637.32 1325.2 L637.77 1325.5 L638.21 1325.4 L638.66 1325.7 L639.11 1325.5 L639.55 1325.8 L640.00 1325.9 L640.45 1326.0 L640.89 1326.2 L641.79 1326.2 L642.68 1326.5 L643.12 1326.5 L643.57 1326.4 L644.46 1326.4 L644.91 1326.6 L645.36 1326.5 L645.80 1326.5 L646.25 1326.5 L647.14 1326.5 L647.59 1326.7 L648.04 1326.8 L648.93 1326.7 L649.37 1326.5 L649.82 1326.5 L650.27 1326.4 L650.71 1326.6 L651.16 1326.7 L651.61 1326.5 L652.05 1326.8 L652.50 1326.6 L652.95 1326.8 L653.84 1327.0 L654.29 1326.7 L654.73 1326.7 L655.18 1326.8 L655.62 1326.6 L656.07 1326.4 L656.52 1326.6 L656.96 1326.6 L657.41 1326.8 L657.86 1326.9 L658.30 1326.8 L658.75 1326.9 L659.64 1326.6 L659.91 1326.6 L660.13 1326.3 L660.36 1326.1 L660.54 1325.9 L660.58 1326.1 L660.80 1325.8 L660.98 1325.4 L661.03 1325.2 L661.43 1324.5 L661.70 1324.1 L661.92 1324.0 L662.14 1323.6 L662.37 1323.3 L662.59 1323.4 L662.81 1323.3 L663.04 1323.5 L663.26 1323.4 L663.48 1323.8 L663.66 1324.1 L663.93 1324.1 L664.15 1324.6 L664.60 1325.4 L665.04 1325.5 L665.45 1325.9 L665.89 1326.1 L666.34 1326.2 L666.79 1326.5 L667.23 1326.6 L667.68 1326.6 L668.12 1326.8 L668.57 1326.8 L669.02 1326.5 L669.46 1326.6 L669.91 1326.7 L670.36 1326.6 L670.80 1326.7 L671.25 1326.5 L671.70 1326.5 L672.14 1326.7 L673.04 1326.7 L673.48 1326.6 L674.37 1326.6 L674.82 1326.6 L675.27 1326.7 L675.71 1326.7 L676.16 1326.8 L677.05 1326.7 L677.50 1326.5 L677.95 1326.4 L678.39 1326.6 L678.84 1326.5 L679.29 1326.4 L679.73 1326.4 L680.18 1326.5 L680.62 1326.7 L681.07 1326.7 L681.52 1326.8 L681.96 1326.5 L682.41 1326.4 L682.86 1326.6 L683.30 1326.5 L683.75 1326.7 L684.64 1326.5 L685.09 1326.4 L685.54 1326.4 L685.98 1326.6 L686.43 1326.7 L686.87 1326.6 L687.77 1326.5 L688.21 1326.4 L688.66 1326.7 L689.11 1326.7 L689.55 1326.8 L690.00 1326.7 L690.45 1326.7 L691.34 1326.4 L691.79 1326.7 L692.23 1326.8 L692.68 1326.6 L693.12 1326.8 L693.57 1326.8 L694.02 1326.6 L694.46 1326.6 L694.91 1326.8 L695.36 1326.7 L695.80 1326.8 L696.25 1326.6 L696.70 1326.5 L697.14 1326.6 L697.59 1326.5 L698.04 1326.5 L698.48 1326.7 L698.93 1326.6 L699.37 1326.7 L699.82 1326.5 L700.27 1326.4 L700.71 1326.4 L701.16 1326.4 L701.61 1326.7 L702.05 1326.5 L702.50 1326.6 L702.95 1326.4 L703.39 1326.5 L704.29 1326.5 L704.73 1326.3 L705.18 1326.3 L705.62 1326.6 L706.96 1326.4 L707.86 1326.3 L708.30 1326.3 L708.75 1326.5 L709.20 1326.4 L709.64 1326.3 L710.09 1326.5 L710.54 1326.4 L710.98 1326.4 L711.43 1326.6 L711.87 1326.4 L712.32 1326.4 L712.77 1326.6 L713.21 1326.7 L713.66 1326.5 L714.11 1326.4 L714.55 1326.6 L715.00 1326.5 L715.45 1326.7 L715.89 1326.5 L716.34 1326.7 L716.79 1326.6 L717.23 1326.4 L717.68 1326.5 L718.12 1326.3 L718.57 1326.5 L719.02 1326.4 L719.46 1326.6 L719.91 1326.6 L720.80 1326.4 L721.25 1326.5 L721.70 1326.4 L722.14 1326.6 L722.59 1326.4 L723.48 1326.5 L723.93 1326.4 L724.37 1326.6 L724.82 1326.5 L725.27 1326.5 L725.71 1326.5 L726.16 1326.4 L726.61 1326.4 L727.05 1326.3 L727.50 1326.3 L727.95 1326.5 L728.39 1326.4 L728.84 1326.5 L729.29 1326.3 L729.73 1326.4 L730.18 1326.4 L730.62 1326.4 L731.07 1326.4 L731.52 1326.2 L731.96 1326.3 L732.86 1326.2 L733.30 1326.4 L733.75 1326.4 L734.20 1326.4 L734.64 1326.6 L735.54 1326.7 L735.98 1326.7 L736.43 1326.4 L736.87 1326.4 L737.32 1326.2 L737.77 1326.4 L738.21 1326.5 L738.66 1326.4 L739.11 1326.4 L740.00 1326.5 L740.45 1326.4 L740.89 1326.6 L741.34 1326.4 L741.79 1326.5 L742.23 1326.3 L742.68 1326.2 L743.12 1326.5 L744.02 1326.6 L744.46 1326.3 L744.91 1326.2 L745.80 1326.2 L746.70 1326.3 L747.14 1326.2 L747.59 1326.2 L748.04 1326.4 L748.48 1326.3 L748.93 1326.5 L749.37 1326.5 L749.82 1326.5 L750.27 1326.4 L750.71 1326.4 L751.16 1326.5 L751.61 1326.4 L752.05 1326.2 L752.50 1326.4 L752.95 1326.5 L753.84 1326.2 L754.29 1326.4 L754.73 1326.5 L755.18 1326.2 L756.07 1326.1 L756.52 1326.4 L756.96 1326.3 L757.41 1326.5 L757.86 1326.5 L758.30 1326.3 L758.75 1326.4 L759.20 1326.4 L760.09 1326.6 L760.98 1326.2 L761.43 1326.5 L761.87 1326.4 L762.32 1326.6 L763.21 1326.5 L763.66 1326.6 L764.11 1326.5 L764.55 1326.4 L765.00 1326.2 L765.45 1326.4 L765.89 1326.3 L766.34 1326.4 L766.79 1326.5 L767.23 1326.3 L767.68 1326.4 L768.12 1326.2 L769.02 1326.5 L769.46 1326.3 L769.91 1326.4 L770.36 1326.5 L771.25 1326.4 L772.14 1326.1 L773.04 1326.2 L773.48 1326.2 L773.93 1326.2 L774.37 1326.1 L774.82 1326.3 L775.27 1326.4 L775.71 1326.3 L776.16 1326.2 L776.61 1326.3 L777.05 1326.3 L777.50 1326.5 L777.95 1326.3 L778.39 1326.2 L778.84 1326.4 L779.29 1326.2 L779.73 1326.3 L780.18 1326.2 L780.62 1326.4 L781.07 1326.4 L781.52 1326.4 L781.96 1326.2 L782.41 1326.3 L782.86 1326.4 L783.30 1326.3 L784.20 1326.5 L784.64 1326.2 L785.09 1326.2 L785.54 1326.2 L786.43 1325.6 L786.87 1325.7 L787.32 1325.6 L787.77 1326.1 L788.21 1326.1 L788.66 1325.7 L789.11 1325.7 L789.55 1325.9 L790.00 1325.9 L790.89 1325.4 L791.34 1325.2 L791.79 1326.2 L792.23 1326.4 L792.68 1325.7 L793.12 1326.1 L793.57 1326.6 L794.02 1326.3 L794.46 1325.7 L794.91 1325.8 L795.36 1325.8 L795.80 1325.5 L796.25 1325.7 L796.70 1325.3 L797.14 1326.0 L797.59 1326.1 L798.04 1326.1 L798.48 1326.4 L798.93 1326.3 L799.37 1325.7 L800.71 1324.9 L801.16 1325.6 L801.61 1326.0 L802.05 1325.6 L802.50 1325.3 L802.95 1325.6 L803.39 1326.0 L803.84 1326.3 L804.29 1325.5 L804.73 1325.9 L805.18 1326.1 L805.62 1326.1 L806.07 1325.6 L806.52 1325.2 L806.96 1325.7 L807.41 1325.4 L807.86 1325.3 L808.30 1325.4 L808.75 1325.2 L809.20 1325.7 L810.09 1324.8 L810.54 1325.1 L811.43 1325.5 L811.61 1325.5 L811.83 1325.6 L811.87 1325.8 L812.05 1325.2 L812.28 1324.9 L812.32 1324.4 L812.50 1324.2 L812.72 1324.3 L812.77 1323.8 L812.95 1324.1 L813.17 1323.6 L813.39 1324.2 L813.62 1323.4 L813.66 1323.0 L813.84 1323.1 L814.06 1322.9 L814.11 1323.4 L814.29 1322.8 L814.51 1323.5 L814.55 1323.9 L814.73 1324.0 L814.96 1323.7 L815.00 1323.4 L815.18 1323.7 L815.40 1323.8 L815.62 1323.7 L815.85 1323.8 L815.89 1324.1 L816.07 1324.5 L816.29 1324.9 L816.34 1324.3 L816.52 1324.2 L816.74 1324.3 L816.79 1324.5 L817.23 1324.3 L817.68 1324.2 L818.12 1324.4 L818.57 1324.6 L819.02 1325.3 L819.46 1325.6 L819.91 1325.6 L820.36 1325.8 L820.80 1325.8 L821.25 1325.4 L821.70 1325.5 L822.14 1324.6 L822.59 1324.9 L823.04 1324.9 L823.48 1324.6 L823.93 1324.7 L824.37 1325.2 L824.82 1324.9 L825.27 1324.9 L825.71 1324.5 L826.16 1324.4 L826.61 1324.9 L827.05 1324.2 L827.50 1324.0 L827.95 1324.4 L828.39 1324.4 L828.84 1324.0 L829.29 1324.4 L829.73 1324.2 L830.18 1324.4 L830.62 1324.3 L831.52 1324.4 L831.96 1324.2 L832.41 1323.8 L832.86 1323.7 L833.30 1324.4 L833.75 1324.3 L834.20 1323.8 L834.64 1324.4 L835.54 1323.6 L835.98 1323.9 L836.43 1323.7 L837.32 1324.0 L837.77 1323.7 L838.21 1323.9 L838.66 1323.5 L839.11 1323.7 L839.55 1323.9 L840.00 1323.4 L840.45 1323.5 L840.89 1323.2 L841.34 1323.4 L841.79 1324.0 L842.23 1323.9 L843.12 1324.2 L843.57 1323.5 L844.02 1324.1 L844.46 1324.1 L844.91 1323.4 L845.36 1323.9 L845.80 1323.6 L846.25 1323.2 L846.70 1323.9 L847.14 1323.7 L847.59 1323.9 L848.04 1323.3 L848.48 1323.7 L848.93 1323.0 L849.37 1322.9 L849.82 1323.0 L850.27 1322.6 L850.71 1323.1 L851.16 1322.9 L851.61 1322.8 L852.05 1323.3 L852.50 1323.2 L852.95 1323.6 L853.39 1323.5 L853.84 1323.7 L854.29 1323.5 L854.73 1323.8 L855.18 1323.8 L855.62 1323.1 L856.07 1323.3 L856.52 1323.0 L856.96 1323.2 L857.41 1323.1 L857.59 1323.3 L857.86 1322.4 L858.26 1322.9 L858.30 1322.8 L858.48 1321.9 L858.71 1322.0 L858.75 1321.5 L859.15 1321.8 L859.20 1321.2 L859.37 1321.7 L859.60 1321.6 L859.64 1321.1 L859.82 1320.7 L860.04 1320.8 L860.09 1321.3 L860.27 1321.2 L860.49 1320.7 L860.54 1320.3 L860.71 1320.3 L860.94 1321.1 L860.98 1320.8 L861.16 1321.1 L861.38 1321.1 L861.43 1321.5 L861.61 1321.5 L861.83 1321.3 L861.87 1322.0 L862.05 1322.0 L862.28 1322.3 L862.32 1322.6 L862.50 1323.0 L862.72 1322.2 L862.95 1322.0 L863.66 1323.1 L864.11 1323.3 L864.55 1322.7 L865.00 1322.5 L865.45 1323.1 L865.89 1323.2 L866.34 1323.0 L866.79 1323.0 L867.23 1322.6 L867.68 1323.2 L868.12 1323.0 L868.57 1323.4 L869.02 1323.3 L869.46 1322.7 L869.91 1322.6 L870.36 1322.5 L870.80 1323.2 L871.25 1323.2 L871.70 1322.5 L872.14 1322.4 L872.59 1322.5 L873.48 1322.8 L874.37 1322.4 L874.82 1321.9 L875.27 1322.1 L875.71 1321.9 L875.80 1321.5 L876.03 1321.7 L876.16 1322.4 L876.25 1321.7 L876.47 1321.3 L876.61 1321.7 L876.70 1321.5 L876.92 1321.3 L877.05 1321.5 L877.14 1321.3 L877.50 1321.5 L877.59 1322.0 L877.81 1322.2 L877.95 1321.3 L878.26 1321.7 L878.39 1321.9 L878.84 1321.7 L878.93 1321.4 L879.15 1321.2 L879.37 1322.0 L879.60 1322.2 L879.73 1322.1 L879.82 1321.6 L880.18 1322.1 L880.27 1321.9 L880.49 1322.0 L880.62 1321.7 L880.71 1321.9 L880.94 1321.8 L881.07 1321.4 L881.16 1321.5 L881.52 1321.7 L881.96 1322.6 L882.41 1322.5 L882.86 1322.4 L883.30 1322.3 L883.75 1322.3 L884.20 1322.4 L884.64 1322.2 L885.09 1322.0 L885.54 1322.9 L886.43 1322.8 L886.87 1323.0 L888.21 1322.2 L888.66 1322.4 L889.11 1322.4 L889.55 1322.9 L890.00 1323.0 L890.45 1323.4 L890.89 1323.0 L891.34 1323.4 L891.79 1323.3 L892.23 1322.6 L892.68 1322.4 L893.12 1322.8 L893.57 1323.4 L894.02 1323.0 L894.46 1323.3 L894.91 1323.0 L895.36 1323.4 L895.80 1322.7 L896.25 1322.8 L896.70 1323.3 L897.14 1322.8 L897.59 1322.6 L898.04 1322.2 L898.48 1322.2 L898.93 1322.3 L899.37 1322.8 L899.82 1322.6 L900.27 1322.6 L900.71 1322.4 L901.16 1322.8 L901.61 1323.2 L902.05 1323.2 L902.50 1322.7 L902.95 1323.1 L903.39 1323.5 L903.84 1323.3 L904.29 1322.6 L904.73 1323.1 L905.18 1323.4 L906.07 1322.5 L906.52 1322.4 L906.96 1322.7 L907.41 1323.2 L907.86 1323.2 L908.30 1323.5 L908.75 1322.9 L909.20 1322.7 L909.64 1323.1 L910.09 1323.1 L910.54 1322.9 L910.98 1323.1 L911.43 1322.8 L911.87 1322.3 L912.32 1322.5 L912.77 1322.2 L913.21 1322.7 L913.66 1322.6 L914.11 1322.7 L914.55 1322.9 L915.00 1322.6 L915.45 1322.7 L915.89 1322.2 L916.34 1323.0 L916.79 1323.0 L917.23 1323.5 L917.68 1322.7 L918.57 1323.1 L919.02 1322.8 L919.46 1322.4 L919.91 1322.2 L920.36 1322.2 L920.80 1322.8 L921.25 1322.4 L921.70 1323.0 L922.14 1322.8 L923.04 1323.0 L923.48 1323.0 L923.93 1323.1 L924.37 1323.1 L924.82 1322.8 L925.27 1323.1 L925.71 1322.7 L926.16 1323.0 L926.61 1323.2 L927.05 1323.3 L927.50 1322.9 L927.95 1323.2 L928.39 1323.5 L929.29 1322.7 L929.73 1322.8 L930.18 1323.3 L930.62 1322.7 L931.07 1322.2 L931.52 1322.5 L932.41 1323.1 L932.86 1322.8 L933.30 1323.4 L933.75 1322.8 L934.20 1323.1 L934.64 1322.5 L935.09 1322.1 L935.54 1322.1 L935.98 1322.0 L936.43 1322.4 L936.87 1322.7 L937.32 1322.4 L937.77 1323.1 L938.21 1322.8 L938.66 1322.4 L939.11 1322.3 L939.55 1322.8 L940.00 1323.3 L940.45 1322.7 L940.89 1322.2 L941.34 1322.8 L941.79 1322.5 L942.23 1323.2 L942.68 1322.9 L943.12 1322.8 L943.57 1322.2 L944.02 1321.9 L944.46 1320.6 L944.64 1319.7 L944.87 1319.3 L944.91 1318.5 L945.09 1317.9 L945.31 1316.1 L945.36 1316.1 L945.54 1314.9 L945.76 1313.8 L945.80 1312.8 L945.98 1311.8 L946.21 1310.1 L946.25 1310.4 L946.43 1309.5 L946.65 1308.1 L946.70 1307.3 L946.87 1306.3 L947.10 1305.6 L947.14 1305.7 L947.32 1305.4 L947.54 1305.4 L947.59 1306.0 L947.77 1306.5 L947.99 1306.9 L948.04 1307.7 L948.21 1307.9 L948.44 1309.1 L948.48 1309.0 L948.66 1310.6 L948.88 1312.2 L948.93 1311.9 L949.11 1313.3 L949.33 1314.9 L949.37 1314.6 L949.55 1315.5 L949.78 1316.7 L949.82 1317.4 L950.00 1317.7 L950.27 1319.1 L950.71 1320.7 L951.16 1321.5 L952.05 1322.9 L952.50 1322.6 L952.95 1323.1 L953.39 1322.8 L953.84 1323.1 L954.29 1323.4 L954.73 1322.7 L955.18 1323.2 L955.62 1323.5 L956.52 1322.3 L956.96 1322.1 L957.41 1323.0 L957.86 1322.4 L958.30 1323.0 L958.75 1322.5 L959.20 1322.9 L959.64 1322.4 L960.09 1322.2 L960.54 1322.7 L960.98 1322.3 L961.43 1322.4 L961.87 1323.0 L962.32 1323.2 L963.21 1323.6 L963.66 1322.7 L964.11 1322.5 L964.55 1323.0 L965.00 1323.1 L965.45 1322.4 L965.89 1322.6 L966.34 1322.4 L966.79 1322.5 L967.23 1322.2 L967.68 1322.0 L968.12 1322.9 L968.57 1322.7 L969.02 1323.1 L969.46 1322.6 L969.91 1322.7 L970.36 1322.3 L970.80 1322.5 L971.25 1322.3 L971.70 1322.7 L972.14 1322.4 L972.59 1322.9 L973.04 1322.8 L973.48 1322.4 L973.93 1322.4 L974.37 1322.6 L974.82 1323.2 L975.71 1322.5 L976.16 1323.2 L976.61 1323.4 L977.05 1323.4 L977.50 1322.8 L977.95 1322.5 L978.39 1322.4 L978.84 1322.1 L979.29 1322.0 L979.73 1322.4 L980.18 1322.5 L980.62 1322.7 L981.07 1322.6 L981.52 1322.2 L981.96 1322.7 L982.41 1322.9 L983.30 1322.9 L983.75 1323.1 L984.20 1323.5 L984.64 1323.5 L985.09 1323.4 L985.54 1323.0 L985.98 1322.7 L986.43 1322.7 L986.87 1323.3 L987.32 1322.9 L987.77 1322.7 L988.21 1322.7 L988.66 1322.3 L989.11 1323.1 L989.55 1322.4 L990.00 1322.7 L990.45 1323.2 L990.89 1322.7 L991.34 1322.9 L991.79 1322.7 L992.23 1322.5 L993.12 1322.1 L993.57 1322.8 L994.46 1323.4 L994.91 1322.6 L995.36 1322.9 L995.80 1322.7 L996.25 1322.9 L996.70 1322.9 L997.14 1322.6 L997.59 1323.2 L998.04 1322.3 L998.48 1322.6 L998.93 1322.7 L999.37 1322.1 L1000.27 1320.5 L1000.71 1317.9 L1001.16 1315.1 L1001.61 1311.1 L1002.05 1305.0 L1002.50 1297.8 L1002.95 1288.5 L1003.48 1275.8 L1003.71 1270.1 L1003.84 1266.3 L1003.93 1264.1 L1004.15 1258.2 L1004.29 1254.4 L1004.38 1252.4 L1004.60 1246.6 L1004.73 1244.1 L1004.82 1241.9 L1005.18 1234.9 L1005.27 1233.3 L1005.49 1229.8 L1005.62 1228.0 L1005.71 1228.0 L1005.94 1226.5 L1006.07 1226.0 L1006.16 1225.9 L1006.38 1226.5 L1006.61 1226.6 L1006.83 1228.7 L1006.96 1229.7 L1007.05 1230.8 L1007.28 1233.6 L1007.50 1237.0 L1007.72 1239.6 L1007.86 1241.8 L1007.95 1243.8 L1008.17 1248.2 L1008.30 1250.1 L1008.39 1251.6 L1008.62 1256.1 L1008.75 1258.7 L1009.20 1268.9 L1009.64 1278.0 L1010.09 1286.4 L1010.54 1293.6 L1010.98 1300.3 L1011.43 1306.5 L1011.87 1310.9 L1012.32 1314.1 L1012.77 1316.7 L1013.21 1318.9 L1013.66 1320.4 L1014.11 1320.8 L1014.55 1321.8 L1015.00 1322.0 L1015.45 1322.4 L1015.89 1322.4 L1016.34 1322.5 L1017.23 1322.7 L1017.68 1322.4 L1018.12 1322.5 L1018.57 1323.0 L1019.02 1322.7 L1019.46 1322.7 L1019.91 1323.3 L1020.36 1323.2 L1020.80 1323.2 L1021.25 1323.1 L1021.70 1323.8 L1022.14 1323.3 L1022.59 1323.7 L1023.04 1324.2 L1023.48 1323.7 L1023.93 1323.7 L1024.37 1324.1 L1024.82 1324.2 L1025.27 1324.0 L1025.71 1323.5 L1026.16 1323.7 L1026.61 1323.8 L1027.05 1324.2 L1027.50 1324.0 L1027.95 1324.0 L1028.39 1324.3 L1028.84 1324.7 L1029.29 1324.4 L1029.73 1324.2 L1030.18 1324.4 L1030.62 1324.9 L1031.07 1324.4 L1031.52 1325.0 L1031.96 1325.0 L1032.41 1324.7 L1032.86 1324.8 L1033.30 1324.6 L1033.75 1324.2 L1034.20 1324.7 L1034.64 1324.6 L1035.09 1324.7 L1035.54 1324.8 L1035.98 1325.3 L1036.43 1325.4 L1036.87 1324.6 L1037.32 1324.9 L1038.21 1324.9 L1038.66 1325.4 L1039.11 1325.2 L1039.55 1325.1 L1040.00 1325.6 L1040.45 1325.3 L1040.89 1325.3 L1041.34 1325.3 L1041.79 1325.7 L1042.23 1325.7 L1042.68 1325.8 L1043.12 1325.5 L1043.57 1325.0 L1044.02 1325.4 L1044.91 1325.6 L1045.36 1325.7 L1045.80 1325.5 L1046.70 1325.3 L1047.14 1325.6 L1047.59 1325.4 L1048.04 1325.3 L1048.48 1325.6 L1048.93 1325.6 L1049.37 1325.5 L1049.82 1325.6 L1050.27 1325.7 L1050.71 1325.7 L1051.16 1325.5 L1051.61 1325.7 L1052.05 1325.7 L1052.50 1325.7 L1052.95 1325.9 L1053.84 1326.0 L1054.29 1325.7 L1054.73 1325.7 L1055.18 1325.7 L1055.62 1325.6 L1056.07 1325.9 L1056.52 1325.8 L1056.96 1325.7 L1057.86 1325.7 L1058.30 1325.9 L1059.20 1325.9 L1059.64 1325.9 L1060.09 1325.7 L1060.54 1325.7 L1060.98 1326.0 L1061.87 1326.2 L1062.32 1326.0 L1063.21 1325.7 L1063.66 1325.9 L1065.00 1326.0 L1065.45 1326.1 L1065.89 1326.0 L1066.34 1326.2 L1066.79 1326.0 L1067.23 1326.2 L1067.68 1326.2 L1068.12 1326.0 L1068.57 1326.0 L1069.02 1326.1 L1069.46 1326.1 L1069.91 1326.2 L1070.80 1326.1 L1071.25 1326.3 L1071.70 1326.1 L1072.59 1326.3 L1073.48 1326.2 L1073.93 1326.4 L1074.37 1326.3 L1074.82 1326.4 L1075.27 1326.1 L1075.71 1326.1 L1076.16 1326.2 L1076.61 1326.0 L1077.05 1326.3 L1077.50 1326.1 L1077.95 1326.2 L1078.39 1326.1 L1078.84 1326.3 L1079.29 1326.3 L1079.73 1326.4 L1080.18 1326.3 L1081.07 1326.3 L1081.96 1326.1 L1082.41 1326.3 L1082.86 1326.1 L1083.30 1326.3 L1083.75 1326.1 L1084.20 1326.0 L1084.64 1325.9 L1085.09 1326.2 L1085.54 1326.4 L1085.98 1326.3 L1086.43 1326.3 L1086.87 1326.1 L1087.32 1326.3 L1087.77 1326.3 L1088.21 1326.1 L1088.66 1326.0 L1089.11 1326.2 L1089.55 1326.0 L1090.00 1326.2 L1090.89 1326.1 L1091.34 1326.2 L1091.79 1326.1 L1092.23 1326.2 L1092.68 1326.1 L1093.12 1326.3 L1093.57 1326.2 L1094.02 1326.3 L1094.46 1326.1 L1095.36 1326.4 L1095.80 1326.3 L1096.25 1326.0 L1096.70 1326.1 L1097.14 1326.2 L1097.59 1326.1 L1098.04 1326.2 L1098.48 1326.0 L1098.93 1326.1 L1099.37 1326.2 L1099.82 1326.2 L1100.27 1326.3 L1100.71 1326.1 L1101.16 1326.3 L1101.61 1326.1 L1102.05 1326.3 L1102.50 1326.5 L1102.95 1326.5 L1103.84 1326.2 L1104.29 1326.1 L1104.73 1326.3 L1105.18 1326.2 L1105.62 1326.4 L1106.07 1326.1 L1106.52 1326.2 L1106.96 1326.3 L1107.86 1326.3 L1108.30 1326.1 L1108.75 1326.0 L1109.20 1326.0 L1109.64 1326.3 L1110.09 1326.4 L1110.54 1326.2 L1110.98 1326.4 L1111.43 1326.1 L1111.87 1326.2 L1112.32 1326.4 L1112.77 1326.2 L1113.21 1326.4 L1113.66 1326.4 L1114.11 1326.1 L1114.55 1326.1 L1115.00 1326.1 L1115.45 1326.1 L1115.89 1326.2 L1116.34 1326.1 L1116.79 1326.3 L1117.68 1326.0 L1118.12 1326.1 L1118.57 1326.0 L1119.46 1326.3 L1119.91 1326.3 L1120.36 1326.2 L1120.80 1326.0 L1121.25 1326.1 L1121.70 1326.0 L1122.14 1326.2 L1122.59 1326.0 L1123.04 1326.1 L1123.93 1326.1 L1124.37 1326.2 L1124.82 1326.1 L1125.27 1326.0 L1125.71 1326.3 L1126.16 1326.2 L1126.61 1326.3 L1127.05 1326.4 L1127.50 1326.3 L1127.95 1326.1 L1128.39 1326.0 L1128.84 1326.2 L1129.29 1326.1 L1130.18 1326.2 L1130.62 1326.0 L1131.07 1326.1 L1131.52 1326.0 L1131.96 1326.1 L1132.41 1326.2 L1132.86 1326.1 L1133.30 1326.0 L1133.75 1326.1 L1134.64 1326.0 L1135.09 1326.0 L1135.54 1326.2 L1135.98 1326.2 L1136.43 1326.4 L1136.87 1326.1 L1137.32 1326.3 L1137.77 1326.3 L1138.21 1326.3 L1138.66 1326.3 L1139.11 1326.3 L1139.55 1326.2 L1140.00 1326.3 L1140.45 1326.1 L1140.89 1326.1 L1141.34 1325.9 L1142.23 1326.1 L1142.68 1326.1 L1143.12 1326.3 L1143.57 1326.1 L1144.02 1326.2 L1144.46 1326.1 L1145.36 1326.3 L1145.80 1326.3 L1146.25 1326.1 L1146.70 1326.0 L1147.14 1326.1 L1147.59 1326.3 L1148.04 1326.0 L1149.37 1326.2 L1149.82 1326.0 L1150.27 1326.1 L1150.71 1326.0 L1151.16 1326.1 L1151.61 1325.7 L1152.05 1325.9 L1152.50 1325.7 L1152.95 1325.6 L1153.39 1325.4 L1153.84 1325.3 L1154.29 1325.4 L1154.73 1325.4 L1155.18 1325.1 L1155.62 1325.0 L1156.25 1324.8 L1156.52 1324.8 L1156.70 1325.1 L1156.96 1325.2 L1157.14 1325.0 L1157.37 1324.9 L1157.59 1325.1 L1157.86 1325.0 L1158.04 1324.8 L1158.26 1324.8 L1158.30 1325.0 L1158.48 1325.0 L1158.71 1324.7 L1158.75 1324.9 L1159.15 1324.6 L1159.20 1324.9 L1159.60 1325.0 L1159.64 1324.7 L1160.09 1325.1 L1160.54 1325.1 L1160.94 1324.9 L1161.16 1325.1 L1161.38 1325.2 L1161.43 1325.0 L1161.61 1325.2 L1161.87 1325.1 L1162.32 1325.3 L1162.77 1325.1 L1163.21 1325.4 L1163.66 1325.5 L1164.11 1325.3 L1164.55 1325.5 L1165.00 1325.4 L1165.45 1325.4 L1165.89 1325.5 L1166.34 1325.5 L1166.79 1325.6 L1167.23 1325.9 L1168.12 1326.0 L1168.57 1326.0 L1169.02 1326.1 L1169.46 1326.2 L1169.91 1326.2 L1170.36 1326.3 L1170.80 1326.3 L1171.25 1326.2 L1171.70 1326.0 L1172.59 1326.3 L1173.04 1326.2 L1173.48 1326.2 L1173.93 1326.3 L1174.37 1326.4 L1174.82 1326.1 L1175.27 1326.1 L1175.71 1326.0 L1176.16 1325.9 L1176.61 1326.2 L1177.05 1326.2 L1177.50 1326.2 L1178.39 1326.1 L1178.84 1326.0 L1179.29 1326.1 L1179.73 1326.3 L1180.18 1326.3 L1181.07 1326.0 L1181.52 1326.0 L1181.96 1326.2 L1182.41 1326.2 L1183.30 1326.3 L1183.75 1326.1 L1184.20 1326.2 L1184.64 1326.0 L1185.09 1326.2 L1185.54 1326.1 L1185.98 1326.1 L1186.43 1326.3 L1187.32 1326.1 L1187.77 1326.3 L1188.21 1326.3 L1188.66 1326.4 L1189.11 1326.3 L1189.55 1326.2 L1190.00 1326.4 L1190.45 1326.3 L1190.89 1326.4 L1191.34 1326.2 L1191.79 1326.3 L1192.23 1326.1 L1192.68 1326.2 L1193.12 1326.0 L1193.57 1326.0 L1194.02 1326.3 L1194.46 1326.2 L1194.91 1326.3 L1195.36 1326.2 L1195.80 1326.1 L1196.25 1326.0 L1196.70 1326.1 L1197.14 1326.3 L1198.04 1326.2 L1198.48 1326.4 L1198.93 1326.4 L1199.37 1326.4 L1199.82 1326.1 L1200.27 1326.2 L1200.71 1326.2 L1201.16 1326.4 L1201.61 1326.2 L1202.50 1326.3 L1202.95 1326.2 L1203.39 1326.2 L1203.84 1326.3 L1204.29 1326.4 L1205.18 1326.2 L1205.62 1326.4 L1206.07 1326.1 L1206.52 1326.3 L1206.96 1326.3 L1207.86 1326.2 L1208.75 1326.4 L1209.64 1326.4 L1210.09 1326.1 L1210.54 1326.1 L1210.98 1326.0 L1211.43 1326.3 L1211.87 1326.4 L1212.32 1326.2 L1213.21 1326.2 L1213.66 1326.0 L1214.11 1326.1 L1214.55 1326.2 L1215.00 1326.3 L1215.45 1326.1 L1215.89 1326.3 L1216.34 1326.2 L1216.79 1326.2 L1217.23 1326.2 L1217.68 1326.4 L1218.12 1326.3 L1218.57 1326.4 L1219.02 1326.4 L1219.46 1326.2 L1219.91 1326.4 L1220.80 1326.4 L1221.25 1326.2 L1221.70 1326.1 L1222.14 1326.2 L1222.59 1326.3 L1223.04 1326.4 L1223.93 1326.1 L1224.37 1326.1 L1224.82 1326.3 L1225.27 1326.1 L1225.71 1326.3 L1226.16 1326.1 L1226.61 1326.1 L1227.05 1326.0 L1227.95 1326.1 L1228.39 1326.3 L1228.84 1326.4 L1229.29 1326.2 L1229.73 1326.1 L1230.18 1326.3 L1230.62 1326.1 L1231.07 1326.1 L1231.52 1326.1 L1231.96 1326.0 L1232.41 1326.0 L1233.30 1326.1 L1233.75 1326.3 L1234.20 1326.2 L1234.64 1326.1 L1235.09 1326.3 L1235.54 1326.2 L1235.98 1326.3 L1236.43 1326.3 L1236.87 1326.4 L1237.77 1326.1 L1238.21 1326.2 L1238.66 1326.2 L1239.55 1326.3 L1240.00 1326.3 L1240.45 1326.2 L1240.89 1326.1 L1241.34 1326.3 L1241.79 1326.3 L1242.23 1326.2 L1242.68 1326.2 L1243.12 1326.1 L1243.57 1326.3 L1244.02 1326.1 L1244.46 1326.3 L1244.91 1326.3 L1245.36 1326.2 L1245.80 1326.4 L1246.25 1326.2 L1247.14 1326.0 L1248.04 1326.3 L1248.48 1326.3 L1248.93 1326.2 L1249.37 1326.3 L1249.82 1326.1 L1250.27 1326.1 L1250.71 1326.2 L1251.16 1326.4 L1251.61 1326.3 L1252.50 1326.4 L1252.95 1326.3 L1253.39 1326.4 L1253.84 1326.4 L1254.29 1326.2 L1254.73 1326.2 L1255.18 1326.3 L1256.07 1326.1 L1256.52 1326.3 L1257.41 1326.2 L1257.86 1326.3 L1258.30 1326.4 L1258.75 1326.2 L1259.20 1326.1 L1259.64 1326.0 L1260.54 1326.1 L1260.98 1326.3 L1261.43 1326.3 L1261.87 1326.3 L1262.32 1326.2 L1262.77 1326.2 L1263.21 1326.1 L1263.66 1326.3 L1264.55 1326.4 L1265.00 1326.2 L1265.45 1326.3"/>
<path stroke-width="2.25" d="M60.20 1998.5 L100.70 1998.5 L141.20 1998.5 L181.70 1998.5 L222.20 1998.5 L262.70 1998.5 L303.20 1998.5 L343.70 1998.5 L384.20 1998.5 L424.70 1998.5 L465.20 1998.5 L505.70 1998.5 L510.70 1998.5 L511.70 1998.5 L512.70 1998.4 L513.35 1998.2 L514.35 1997.7 L515.35 1997.1 L515.85 1996.9 L516.35 1996.9 L517.20 1997.2 L518.85 1998.0 L519.70 1998.3 L520.70 1998.4 L522.20 1998.5 L562.70 1998.5 L577.70 1998.5 L579.20 1998.5 L580.25 1998.3 L581.25 1998.0 L582.25 1997.6 L583.00 1997.5 L583.75 1997.6 L585.25 1998.2 L585.75 1998.3 L586.20 1998.2 L586.70 1997.7 L587.10 1996.7 L587.35 1995.5 L587.60 1993.8 L587.70 1992.9 L587.85 1991.4 L588.10 1988.2 L588.20 1986.8 L588.35 1984.3 L588.60 1979.7 L589.10 1969.5 L589.35 1964.7 L589.60 1960.8 L589.70 1959.6 L589.85 1958.3 L590.10 1957.4 L590.20 1957.5 L590.35 1958.0 L590.60 1959.9 L590.70 1960.9 L590.85 1962.8 L591.10 1966.5 L591.35 1970.7 L591.70 1976.8 L591.85 1979.4 L592.10 1983.3 L592.35 1986.8 L592.60 1989.8 L592.85 1992.2 L593.10 1994.0 L593.20 1994.6 L593.70 1996.7 L594.20 1997.7 L594.70 1998.1 L595.20 1998.3 L596.20 1998.4 L599.20 1998.5 L636.20 1998.5 L637.70 1998.5 L638.20 1998.5 L638.70 1998.4 L639.20 1998.1 L639.45 1997.9 L639.70 1997.5 L639.95 1997.0 L640.20 1996.4 L640.45 1995.6 L640.70 1994.6 L641.20 1992.5 L641.45 1991.5 L641.70 1990.7 L641.95 1990.2 L642.20 1990.0 L642.45 1990.1 L642.70 1990.5 L642.95 1991.1 L643.20 1991.9 L643.95 1994.6 L644.20 1995.4 L644.45 1996.2 L644.70 1996.8 L644.95 1997.3 L645.20 1997.6 L645.70 1998.1 L646.20 1998.0 L646.70 1996.8 L647.20 1992.3 L647.50 1985.8 L647.70 1978.7 L647.75 1976.6 L648.00 1962.5 L648.20 1946.7 L648.25 1942.1 L648.50 1914.2 L648.70 1886.1 L648.75 1878.3 L649.00 1835.0 L649.20 1796.5 L649.50 1736.3 L649.70 1698.0 L649.75 1689.1 L650.00 1650.3 L650.20 1628.6 L650.25 1624.7 L650.50 1615.8 L650.70 1619.9 L650.75 1622.2 L651.00 1641.0 L651.20 1663.6 L651.25 1670.1 L651.50 1707.0 L651.70 1739.9 L652.00 1791.0 L652.20 1824.1 L652.25 1832.1 L652.50 1869.5 L652.70 1895.7 L652.75 1901.7 L653.00 1928.2 L653.20 1945.4 L653.25 1949.1 L653.50 1964.8 L653.70 1974.2 L654.20 1988.5 L654.70 1994.5 L655.20 1996.8 L655.70 1997.6 L656.20 1997.9 L656.70 1998.0 L657.70 1998.2 L659.70 1998.3 L662.20 1998.4 L667.20 1998.5 L671.70 1998.5 L673.20 1998.5 L674.25 1998.3 L675.25 1998.0 L676.25 1997.6 L677.00 1997.5 L677.75 1997.6 L679.25 1998.2 L680.20 1998.4 L681.20 1998.5 L697.70 1998.5 L698.70 1998.5 L699.20 1998.3 L699.70 1997.5 L700.20 1994.3 L700.70 1983.4 L700.80 1979.5 L701.05 1965.8 L701.20 1954.3 L701.30 1944.8 L701.55 1914.4 L701.70 1890.9 L701.80 1872.9 L702.05 1819.5 L702.20 1782.0 L702.30 1755.1 L702.55 1682.8 L702.70 1637.8 L702.80 1608.0 L703.05 1537.8 L703.20 1501.1 L703.30 1480.0 L703.55 1441.9 L703.70 1430.8 L703.80 1428.6 L704.05 1437.5 L704.20 1451.1 L704.30 1463.4 L704.55 1504.0 L704.70 1534.0 L704.80 1555.7 L705.05 1614.3 L705.30 1675.4 L705.55 1735.2 L705.70 1769.0 L705.80 1790.4 L706.05 1839.0 L706.20 1864.5 L706.30 1879.9 L706.55 1912.8 L706.70 1928.9 L706.80 1938.2 L707.20 1965.9 L707.70 1984.2 L708.20 1992.2 L708.70 1995.2 L709.20 1996.4 L709.70 1996.9 L710.20 1997.1 L711.20 1997.4 L712.20 1997.7 L713.70 1997.9 L715.20 1998.1 L717.20 1998.3 L720.20 1998.4 L724.70 1998.5 L727.20 1998.5 L728.20 1998.4 L729.20 1998.3 L730.25 1998.0 L731.75 1997.5 L732.75 1997.3 L733.50 1997.3 L734.75 1997.7 L736.20 1998.2 L737.20 1998.4 L738.20 1998.5 L741.70 1998.5 L746.20 1998.5 L747.20 1998.4 L747.70 1998.2 L748.20 1997.3 L748.70 1994.5 L748.95 1991.7 L749.20 1987.3 L749.45 1980.9 L749.70 1972.2 L749.95 1961.1 L750.20 1947.6 L750.45 1932.5 L750.70 1916.8 L750.95 1902.1 L751.20 1890.1 L751.45 1882.1 L751.70 1879.3 L751.95 1881.3 L752.20 1887.1 L752.45 1896.1 L752.70 1907.5 L752.95 1920.3 L753.20 1933.5 L753.45 1946.3 L753.70 1957.9 L753.95 1967.9 L754.20 1976.2 L754.45 1982.7 L754.70 1987.6 L755.20 1993.6 L755.70 1996.4 L756.20 1997.5 L756.70 1997.9 L757.20 1998.1 L758.20 1998.2 L760.20 1998.4 L763.20 1998.4 L771.70 1998.5 L774.70 1998.5 L775.70 1998.4 L776.25 1998.3 L776.75 1998.1 L777.25 1997.7 L778.25 1996.7 L778.75 1996.3 L779.25 1996.3 L779.75 1996.6 L781.25 1997.8 L781.75 1998.1 L782.20 1998.3 L782.70 1998.4 L783.70 1998.5 L790.70 1998.5 L791.70 1998.5 L792.20 1998.3 L792.70 1997.9 L793.10 1997.0 L793.35 1996.0 L793.60 1994.6 L793.85 1992.6 L794.10 1990.0 L794.35 1986.8 L794.60 1982.9 L795.10 1974.5 L795.35 1970.5 L795.60 1967.3 L795.70 1966.3 L795.85 1965.2 L796.10 1964.5 L796.20 1964.6 L796.35 1965.0 L796.60 1966.5 L796.70 1967.4 L796.85 1968.9 L797.10 1972.0 L797.35 1975.5 L797.70 1980.5 L797.85 1982.7 L798.10 1986.0 L798.35 1988.9 L798.60 1991.3 L798.85 1993.3 L799.10 1994.8 L799.20 1995.3 L799.70 1997.0 L800.20 1997.8 L800.70 1998.2 L801.20 1998.3 L802.20 1998.4 L805.70 1998.5 L833.70 1998.5 L835.70 1998.5 L836.85 1998.4 L838.85 1997.8 L839.70 1997.7 L840.85 1997.9 L842.35 1998.4 L843.20 1998.5 L845.20 1998.5 L885.70 1998.5 L926.20 1998.5 L966.70 1998.5 L1007.20 1998.5 L1047.70 1998.5 L1088.20 1998.5 L1128.70 1998.5 L1169.20 1998.5 L1209.70 1998.5 L1250.20 1998.5 L1290.70 1998.5 L1331.20 1998.5 L1371.70 1998.5 L1412.20 1998.5 L1415.20 1998.5"/>
</g>
<text transform="translate(200.2,2082.8) scale(0.97,1)" font-size="38" text-anchor="middle">16</text>
<text transform="translate(361.1,2082.8) scale(0.97,1)" font-size="38" text-anchor="middle">18</text>
<text transform="translate(522.9,2082.8) scale(0.97,1)" font-size="38" text-anchor="middle">20</text>
<text transform="translate(686.5,2082.8) scale(0.97,1)" font-size="38" text-anchor="middle">22</text>
<text transform="translate(848.3,2082.8) scale(0.97,1)" font-size="38" text-anchor="middle">24</text>
<text transform="translate(1011.9,2082.8) scale(0.97,1)" font-size="38" text-anchor="middle">26</text>
<text transform="translate(1173.4,2082.8) scale(0.97,1)" font-size="38" text-anchor="middle">28</text>
<text transform="translate(1337.3,2082.8) scale(0.97,1)" font-size="38" text-anchor="middle">30</text>
<text x="743.7" y="2152.6" font-size="41" text-anchor="middle">Retention time (min)</text>
<text transform="translate(35.6,1087.6) rotate(-90)" font-size="41" text-anchor="middle">Relative intensity</text>
<text transform="translate(130.4,116.8) scale(1.035,1)" font-size="39.6" text-anchor="start">a)</text>
<text transform="translate(133.6,774.8) scale(1.035,1)" font-size="39.4" text-anchor="start">b)</text>
<text transform="translate(142.4,1458) scale(1.035,1)" font-size="39.4" text-anchor="start">c)</text>
<text x="1282.6" y="612.8" font-size="38" text-anchor="start">Wheat</text>
<text transform="translate(1265.9,1302.6) scale(1.01,1)" font-size="38" text-anchor="start">Maize</text>
<text x="1265.3" y="1976.5" font-size="38" text-anchor="start">Wheat</text>
<text transform="translate(653.8,473.8) scale(0.975,1)" font-size="28" text-anchor="start">Sitosterol</text>
<text transform="translate(643.3,710) scale(0.975,1)" font-size="28" text-anchor="start">Sitosterol</text>
<text transform="translate(991.3,27.3) scale(0.975,1)" font-size="28">Sitosterol-C<tspan font-size="14.2" dx="0.7" dy="6.3">16</tspan></text>
<text transform="translate(1086.7,508.7) scale(0.975,1)" font-size="28">Sitosterol-C<tspan font-size="14.2" dx="0.7" dy="6.3">18</tspan></text>
<text transform="translate(1061.4,1206.7) scale(0.975,1)" font-size="28">Sitosterol-C<tspan font-size="14.2" dx="0.7" dy="6.3">18</tspan></text>
<text transform="translate(941.2,1285.5) scale(0.975,1)" font-size="28">Sitosterol-C<tspan font-size="14.2" dx="0.7" dy="6.3">16</tspan></text>
<text transform="translate(668.5,1414.1) scale(0.97,1.035)" font-size="28" text-anchor="start">AR-21</text>
<text transform="translate(610.2,1600.6) scale(0.97,1.035)" font-size="28" text-anchor="start">AR-19</text>
<text transform="translate(720.3,1865.5) scale(0.97,1.035)" font-size="28" text-anchor="start">AR-23</text>
<text transform="translate(551.0,1942.4) scale(0.97,1.035)" font-size="28" text-anchor="start">AR-17</text>
<text transform="translate(773.9,1949.0) scale(0.97,1.035)" font-size="28" text-anchor="start">AR-25</text>
</svg></body></html>
